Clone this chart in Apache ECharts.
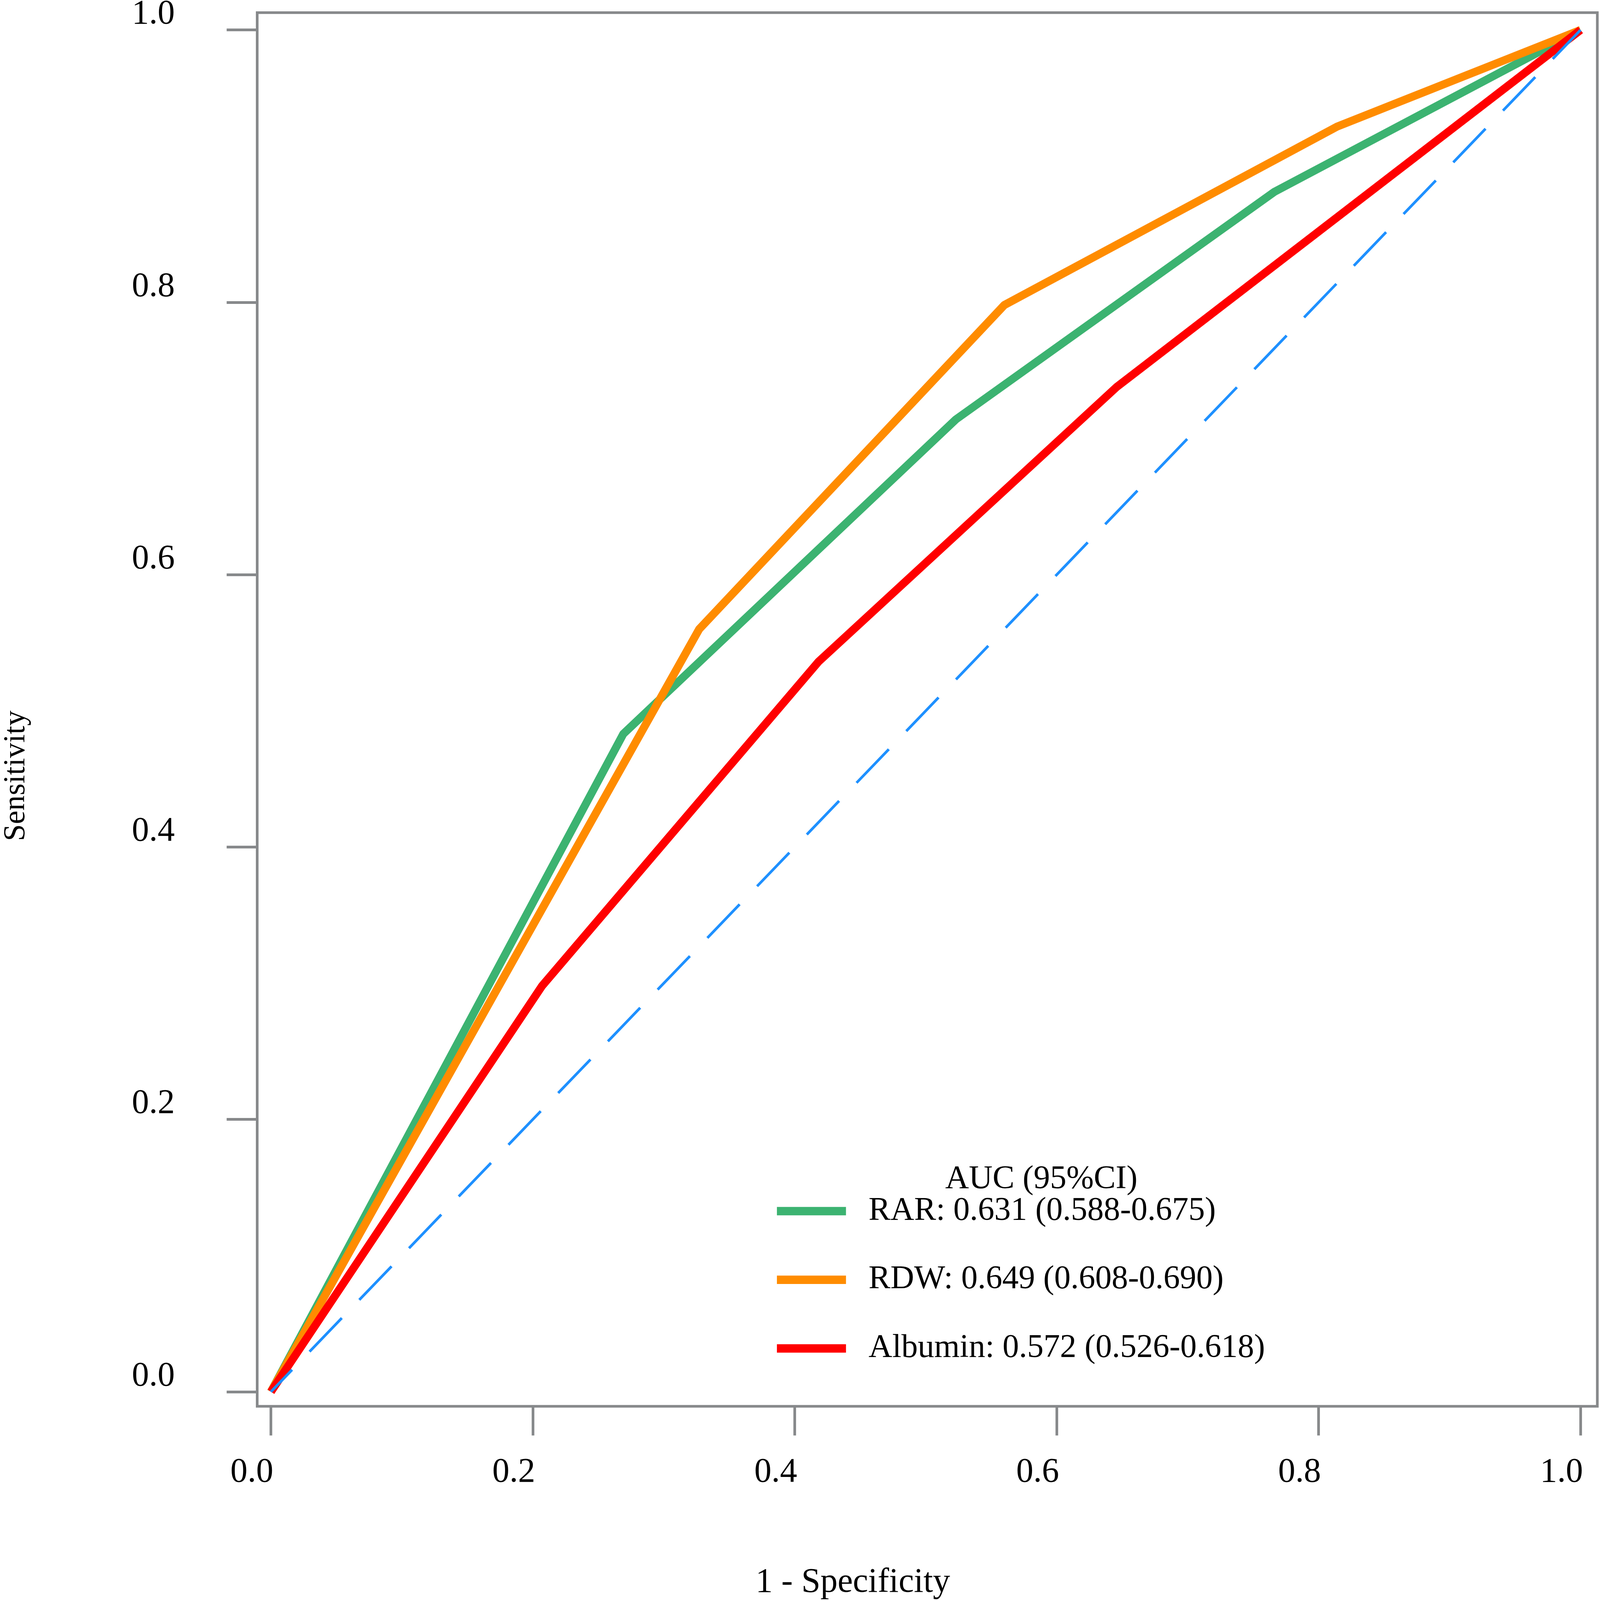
<html lang="en">
<head>
    <meta charset="UTF-8">
    <title>ROC</title>
    <script src="https://cdn.jsdelivr.net/npm/echarts@6/dist/echarts.min.js"></script>
    <style type="text/css">
        html, body {
            margin: 0;
            padding: 0;
            overflow: hidden;
            background: #fff;
        }
        #main {
            width: 100vw;
            height: 100vh;
        }
    </style>
</head>
<body>
<div id="main"></div>
<script>
    // ROC curve points (1 - specificity, sensitivity)
    var rarX = [0, 0.269, 0.523, 0.766, 1];
    var rarY = [0, 0.483, 0.714, 0.881, 1];
    var rdwX = [0, 0.327, 0.560, 0.814, 1];
    var rdwY = [0, 0.560, 0.798, 0.929, 1];
    var albX = [0, 0.207, 0.418, 0.646, 1];
    var albY = [0, 0.298, 0.536, 0.738, 1];
    var refX = [0, 1];
    var refY = [0, 1];

    var seriesNames = [
        'RAR: 0.631 (0.588-0.675)',
        'RDW: 0.649 (0.608-0.690)',
        'Albumin: 0.572 (0.526-0.618)'
    ];
    var seriesColors = ['#3CB371', '#FF8C00', '#FF0000'];
    var tickValues = [0, 0.2, 0.4, 0.6, 0.8, 1.0];
    var legendTitle = 'AUC (95%CI)';

    function pairs(xs, ys) {
        return xs.map(function (x, i) {
            return [x, ys[i]];
        });
    }

    // layout was measured on a 4193x4172 picture, scale to the real window
    var s = window.innerWidth / 4193;
    var sy = window.innerHeight / 4172;
    function px(v) {
        return v * s;
    }
    function py(v) {
        return v * sy;
    }

    var font = "'Liberation Serif', 'Times New Roman', serif";
    var gray = '#87898b';
    var fs = px(90);
    var fsLegend = px(86);

    var curves = [pairs(rarX, rarY), pairs(rdwX, rdwY), pairs(albX, albY)];
    var series = curves.map(function (d, i) {
        return {
            name: seriesNames[i],
            type: 'line',
            data: d,
            showSymbol: false,
            symbol: 'none',
            color: seriesColors[i],
            lineStyle: {width: px(21), color: seriesColors[i], join: 'round'},
            emphasis: {disabled: true}
        };
    });
    series.push({
        name: 'ref',
        type: 'line',
        data: pairs(refX, refY),
        showSymbol: false,
        symbol: 'none',
        color: '#1E90FF',
        lineStyle: {width: px(7), color: '#1E90FF', type: [px(122), px(66)], dashOffset: px(42)},
        emphasis: {disabled: true}
    });

    var myChart = echarts.init(document.getElementById('main'));
    var option = {
        animation: false,
        backgroundColor: '#fff',
        title: {
            text: legendTitle,
            left: px(2477),
            top: py(3033),
            padding: 0,
            textStyle: {fontFamily: font, fontSize: fsLegend, fontWeight: 'normal', color: '#000'}
        },
        legend: {
            data: seriesNames,
            orient: 'vertical',
            left: px(2036),
            top: py(3110),
            padding: 0,
            icon: 'rect',
            itemWidth: px(181),
            itemHeight: py(22),
            itemGap: py(83),
            selectedMode: false,
            textStyle: {
                fontFamily: font,
                fontSize: fsLegend,
                lineHeight: py(96),
                color: '#000',
                padding: [0, 0, 0, px(54)]
            }
        },
        grid: {
            show: true,
            left: px(674),
            right: px(7),
            top: py(33),
            bottom: py(505),
            borderColor: gray,
            borderWidth: px(7),
            outerBoundsMode: 'none'
        },
        xAxis: {
            type: 'value',
            min: -0.0105,
            max: 1.0128,
            name: '1 - Specificity',
            nameLocation: 'middle',
            nameGap: py(415),
            nameTextStyle: {
                fontFamily: font,
                fontSize: fs,
                color: '#000',
                padding: [0, px(390), 0, 0]
            },
            axisLine: {show: false, onZero: false},
            splitLine: {show: false},
            axisTick: {
                show: true,
                inside: false,
                length: py(76),
                customValues: tickValues,
                lineStyle: {color: gray, width: px(7)}
            },
            axisLabel: {
                customValues: tickValues,
                margin: py(128),
                fontFamily: font,
                fontSize: fs,
                color: '#000',
                padding: [0, px(100), 0, 0],
                formatter: function (v) {
                    return v.toFixed(1);
                }
            }
        },
        yAxis: {
            type: 'value',
            min: -0.0107,
            max: 1.0127,
            name: 'Sensitivity',
            nameLocation: 'middle',
            nameGap: px(592),
            nameTextStyle: {
                fontFamily: font,
                fontSize: px(80),
                color: '#000',
                padding: [0, py(346), 0, 0]
            },
            axisLine: {show: false, onZero: false},
            splitLine: {show: false},
            axisTick: {
                show: true,
                inside: false,
                length: px(80),
                customValues: tickValues,
                lineStyle: {color: gray, width: px(7)}
            },
            axisLabel: {
                customValues: tickValues,
                margin: px(216),
                fontFamily: font,
                fontSize: fs,
                color: '#000',
                verticalAlign: 'bottom',
                lineHeight: py(80),
                formatter: function (v) {
                    return v.toFixed(1);
                }
            }
        },
        series: series
    };
    myChart.setOption(option);
</script>
</body>
</html>
